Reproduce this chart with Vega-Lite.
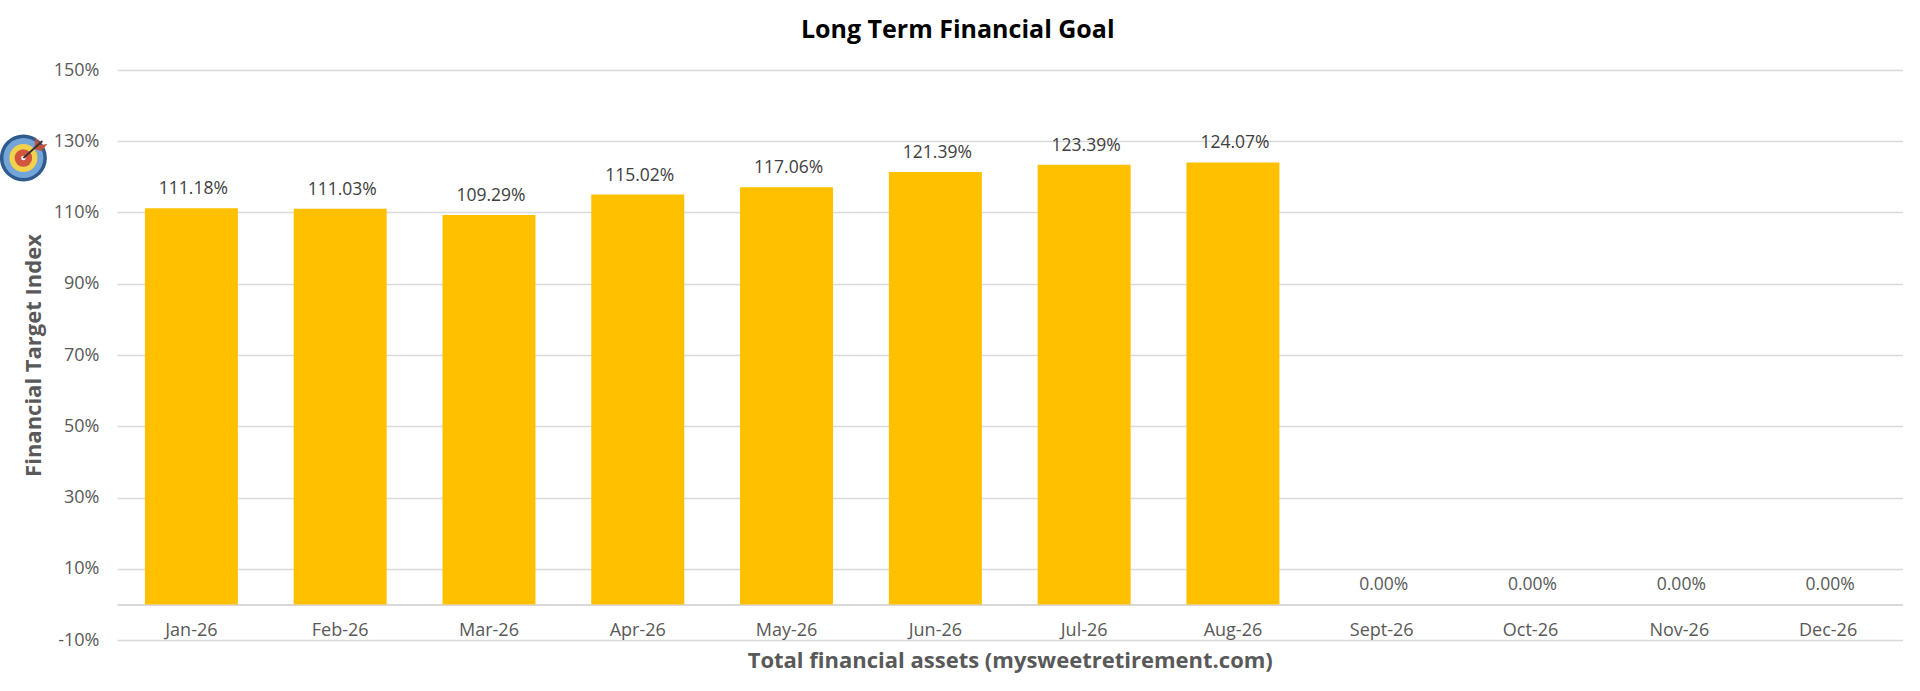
{
  "$schema": "https://vega.github.io/schema/vega-lite/v6.json",
  "description": "Long term financial goal by month",
  "autosize": "none",
  "padding": {"left": 117, "top": 70, "right": 17.5, "bottom": 51},
  "width": 1785.5,
  "height": 570,
  "background": "white",
  "title": {
    "text": "Long Term Financial Goal",
    "font": "Open Sans",
    "fontSize": 25,
    "fontWeight": "bold",
    "color": "#000000",
    "anchor": "middle",
    "dx": -52,
    "offset": 18
  },
  "config": {"view": {"stroke": null}},
  "datasets": {
    "months": [
      {"month": "Jan-26", "index": 1.1118},
      {"month": "Feb-26", "index": 1.1103},
      {"month": "Mar-26", "index": 1.0929},
      {"month": "Apr-26", "index": 1.1502},
      {"month": "May-26", "index": 1.1706},
      {"month": "Jun-26", "index": 1.2139},
      {"month": "Jul-26", "index": 1.2339},
      {"month": "Aug-26", "index": 1.2407},
      {"month": "Sept-26", "index": 0},
      {"month": "Oct-26", "index": 0},
      {"month": "Nov-26", "index": 0},
      {"month": "Dec-26", "index": 0}
    ]
  },
  "layer": [
    {
      "data": {"name": "months"},
      "mark": {"type": "bar", "color": "#ffc000"},
      "encoding": {
        "x": {
          "field": "month",
          "type": "nominal",
          "sort": null,
          "scale": {
            "domain": ["Jan-26", "Feb-26", "Mar-26", "Apr-26", "May-26", "Jun-26", "Jul-26", "Aug-26", "Sept-26", "Oct-26", "Nov-26", "Dec-26"],
            "paddingInner": 0.375,
            "paddingOuter": 0.1875
          },
          "axis": {
            "title": "Total financial assets (mysweetretirement.com)",
            "titleFont": "Open Sans",
            "titleFontSize": 22,
            "titleFontWeight": "bold",
            "titleColor": "#595959",
            "titlePadding": 11,
            "labelFont": "Open Sans",
            "labelFontSize": 18,
            "labelColor": "#595959",
            "labelAngle": 0,
            "labelPadding": 17,
            "ticks": false,
            "offset": -35.6,
            "domainColor": "#d9d9d9",
            "domainWidth": 2,
            "grid": false
          }
        },
        "y": {
          "field": "index",
          "type": "quantitative",
          "scale": {"domain": [-0.1, 1.5], "nice": false, "zero": false},
          "axis": {
            "title": "Financial Target Index",
            "titleFont": "Open Sans",
            "titleFontSize": 22,
            "titleFontWeight": "bold",
            "titleColor": "#595959",
            "titlePadding": 8,
            "labelFont": "Open Sans",
            "labelFontSize": 18,
            "labelColor": "#595959",
            "labelPadding": 18,
            "values": [-0.1, 0.1, 0.3, 0.5, 0.7, 0.9, 1.1, 1.3, 1.5],
            "format": ".0%",
            "labelExpr": "replace(datum.label, '−', '-')",
            "ticks": false,
            "domain": false,
            "grid": true,
            "gridColor": "#d9d9d9",
            "gridWidth": 1.6
          }
        }
      }
    },
    {
      "data": {"name": "months"},
      "mark": {"type": "text", "font": "Open Sans", "fontSize": 17.5, "baseline": "middle", "dy": -19, "dx": 2},
      "encoding": {
        "x": {"field": "month", "type": "nominal", "sort": null},
        "y": {"field": "index", "type": "quantitative"},
        "text": {"field": "index", "type": "quantitative", "format": ".2%"},
        "color": {"condition": {"test": "datum.index === 0", "value": "#595959"}, "value": "#404040"}
      }
    },
    {
      "data": {"values": [{}]},
      "encoding": {
        "x": {"datum": "Jan-26", "type": "nominal"},
        "y": {"datum": 1.253, "type": "quantitative"}
      },
      "layer": [
        {"mark": {"type": "point", "filled": true, "shape": "circle", "size": 2209, "xOffset": -168, "color": "#2f5b8f", "opacity": 1}},
        {"mark": {"type": "point", "filled": true, "shape": "circle", "size": 1600, "xOffset": -168, "color": "#74a5d8", "opacity": 1}},
        {"mark": {"type": "point", "filled": true, "shape": "circle", "size": 784, "xOffset": -168, "color": "#f2d24a", "opacity": 1}},
        {"mark": {"type": "point", "filled": true, "shape": "circle", "size": 306, "xOffset": -168, "color": "#d2563f", "opacity": 1}},
        {"mark": {"type": "point", "filled": true, "shape": "circle", "size": 20, "xOffset": -168, "color": "#ffffff", "opacity": 1}},
        {"mark": {"type": "point", "filled": true, "shape": "M12,-21L17,-13L24,-14L18,-7L11,-9Z", "size": 4, "xOffset": -168, "color": "#c0503c", "opacity": 1}},
        {"mark": {"type": "point", "filled": false, "shape": "M0,0L19,-17", "size": 4, "xOffset": -168, "color": "#3a3030", "strokeWidth": 1.8, "opacity": 1}}
      ]
    }
  ]
}
